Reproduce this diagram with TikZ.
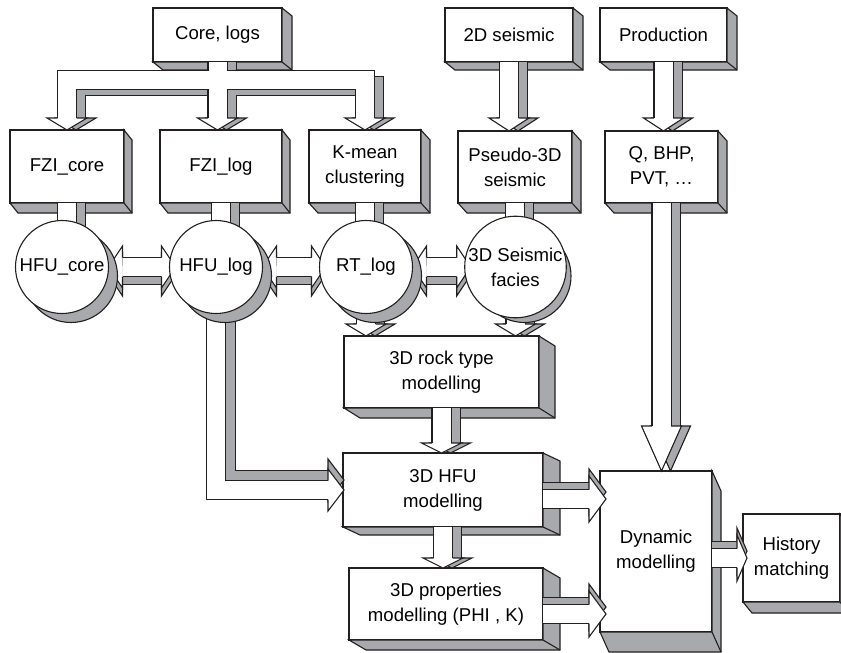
\documentclass[tikz,border=0pt]{standalone}
\usepackage{fontspec}
\setmainfont{Liberation Sans}
\usetikzlibrary{calc}

\definecolor{linecol}{RGB}{35,31,32}
\definecolor{sidegray}{RGB}{167,169,172}
\newcommand{\labelfont}{\fontsize{18.6}{25}\selectfont}

\pgfdeclarelayer{back}
\pgfdeclarelayer{front}
\pgfsetlayers{back,main,front}

% depth faces of a box
\newcommand{\extrude}[3]{%
  \filldraw[fill=sidegray,draw=linecol,line width=1.1pt,line join=miter]
    (#1.north east) -- ($(#1.north east)+(#2,#3)$) -- ($(#1.south east)+(#2,#3)$)
    -- ($(#1.south west)+(#2,#3)$) -- (#1.south west) -- (#1.south east) -- cycle;
  \draw[linecol,line width=1.1pt] (#1.south east) -- ($(#1.south east)+(#2,#3)$);}

% heads: tip, shift, fill, length, half width
\newcommand{\headdown}[5]{%
  \filldraw[arrowhead=#3] ($(#1)+(#2)+(-9.5,-#4)$) -- ($(#1)+(#2)+(-#5,-#4)$)
    -- ($(#1)+(#2)$) -- ($(#1)+(#2)+(#5,-#4)$) -- ($(#1)+(#2)+(9.5,-#4)$);}
\newcommand{\headright}[5]{%
  \filldraw[arrowhead=#3] ($(#1)+(#2)+({-1*(#4)},-9.5)$) -- ($(#1)+(#2)+({-1*(#4)},-#5)$)
    -- ($(#1)+(#2)$) -- ($(#1)+(#2)+({-1*(#4)},#5)$) -- ($(#1)+(#2)+({-1*(#4)},9.5)$);}

\newcommand{\downblock}[3]{%
  \draw[band=sidegray] ($(#1)+(9,0)$) -- ($(#2)+(9,-#3)$);
  \headdown{#2}{9,0}{sidegray}{#3}{20}
  \draw[band=white] (#1) -- ($(#2)+(0,-#3)$);
  \headdown{#2}{0,0}{white}{#3}{20}}
\newcommand{\stemblock}[2]{%
  \draw[band=sidegray] ($(#1)+(9,0)$) -- ($(#2)+(9,0)$);
  \draw[band=white] (#1) -- (#2);}
\newcommand{\rightblock}[3]{%
  \draw[band=sidegray] ($(#1)+(0,-7)$) -- ($(#2)+(-#3,-7)$);
  \headright{#2}{0,-7}{sidegray}{#3}{23}
  \draw[band=white] (#1) -- ($(#2)+(-#3,0)$);
  \headright{#2}{0,0}{white}{#3}{23}}
\newcommand{\bothblock}[2]{%
  \draw[band=sidegray] ($(#1)+(14,8)$) -- ($(#2)+(-8,8)$);
  \headright{#2}{6,8}{sidegray}{14}{21}
  \headright{#1}{0,8}{sidegray}{-14}{21}
  \draw[band=white] ($(#1)+(14,0)$) -- ($(#2)+(-8,0)$);
  \headright{#2}{6,0}{white}{14}{21}
  \headright{#1}{0,0}{white}{-14}{21}}

\newcommand{\hfucirc}[3]{%
  \filldraw[fill=sidegray,draw=linecol,line width=1.1pt] ($(#2)+(9,9)$) circle[radius=46.5];
  \node[hfucircle] (#1) at (#2) {#3};}

\begin{document}
\begin{tikzpicture}
[x=1pt,y=-1pt,
  blockbox/.style={draw=linecol,fill=white,line width=1.1pt,inner sep=0pt,
    outer sep=0pt,align=center,font=\labelfont},
  hfucircle/.style={circle,draw=linecol,fill=white,line width=1.1pt,
    minimum size=93pt,inner sep=0pt,outer sep=0pt,align=center,font=\labelfont},
  band/.style={draw=linecol,line width=1.1pt,double=#1,double distance=18pt,
    line join=miter},
  arrowhead/.style={fill=#1,draw=linecol,line width=1.1pt,line join=miter}]
\useasboundingbox (0,0) rectangle (841,653);

\begin{pgfonlayer}{back}
\node[blockbox,minimum width=129pt,minimum height=54pt] (corelogs) at (217.5,35) {Core, logs};
\node[blockbox,minimum width=128pt,minimum height=54pt] (seis2d) at (509,35) {2D seismic};
\node[blockbox,minimum width=127pt,minimum height=54pt] (production) at (663.5,35) {Production};
\node[blockbox,minimum width=114pt,minimum height=73pt] (fzicore) at (67,166.5) {FZI\_core};
\node[blockbox,minimum width=122pt,minimum height=73pt] (fzilog) at (221,166.5) {FZI\_log};
\node[blockbox,minimum width=112pt,minimum height=73pt] (kmean) at (365,166.5) {K-mean\\clustering};
\node[blockbox,minimum width=114pt,minimum height=72pt] (pseudo) at (515,167) {Pseudo-3D\\seismic};
\node[blockbox,minimum width=113pt,minimum height=72pt] (qbhp) at (661.5,167) {Q, BHP,\\PVT, …};
\node[blockbox,minimum width=195pt,minimum height=72pt] (rocktype) at (441.5,372) {3D rock type\\modelling};
\node[blockbox,minimum width=200pt,minimum height=74pt] (hfu3d) at (443,490) {3D HFU\\modelling};
\node[blockbox,minimum width=194pt,minimum height=72pt] (props) at (446,604) {3D properties\\modelling (PHI , K)};
\node[blockbox,minimum width=112pt,minimum height=161pt] (dynamic) at (656,551.5) {Dynamic\\modelling};
\node[blockbox,minimum width=97pt,minimum height=88pt] (history) at (791.5,558) {History\\matching};
\foreach \boxname/\dx/\dy in {corelogs/10/8, seis2d/10/8, production/10/8,
  fzicore/8/10, fzilog/8/10, kmean/9/10, pseudo/9/10, qbhp/9/10,
  rocktype/16/10, hfu3d/17/8, props/17/10, dynamic/9/20, history/9/11}
  {\extrude{\boxname}{\dx}{\dy}}
\end{pgfonlayer}

\begin{pgfonlayer}{front}
\hfucirc{hfucore}{62,267}{HFU\_core}
\hfucirc{hfulog}{216,267}{HFU\_log}
\hfucirc{rtlog}{366,267}{RT\_log}
\hfucirc{facies}{515.5,267}{3D Seismic\\facies}
\end{pgfonlayer}

\coordinate (split) at ($(corelogs.south)+(0,18)$);
\draw[band=sidegray] ($(corelogs.south)+(9,0)$) -- ($(corelogs.south |- fzilog.north)+(9,-12)$)
  ($(fzicore.north)+(9,-12)$) |- ($(split)+(9,6)$) -| ($(kmean.north)+(9,-12)$);
\foreach \tip in {fzicore.north, corelogs.south |- fzilog.north, kmean.north}
  {\headdown{\tip}{9,0}{sidegray}{12}{20}}
\draw[band=white] (corelogs.south) -- ($(corelogs.south |- fzilog.north)+(0,-12)$)
  ($(fzicore.north)+(0,-12)$) |- (split) -| ($(kmean.north)+(0,-12)$);
\foreach \tip in {fzicore.north, corelogs.south |- fzilog.north, kmean.north}
  {\headdown{\tip}{0,0}{white}{12}{20}}

\downblock{seis2d.south}{seis2d.south |- pseudo.north}{13}
\downblock{production.south}{production.south |- qbhp.north}{13}
\stemblock{fzicore.south}{fzicore.south |- hfucore.center}
\stemblock{fzilog.south}{fzilog.south |- hfulog.center}
\stemblock{kmean.south}{kmean.south |- rtlog.center}
\stemblock{pseudo.south}{pseudo.south |- facies.center}

\bothblock{hfucore.east}{hfulog.west}
\bothblock{hfulog.east}{rtlog.west}
\bothblock{rtlog.east}{facies.west}

\downblock{rtlog.center}{rtlog.center |- rocktype.north}{12}
\downblock{facies.center}{facies.center |- rocktype.north}{12}
\downblock{rocktype.south}{rocktype.south |- hfu3d.north}{10}
\downblock{hfu3d.south}{hfu3d.south |- props.north}{10}
\downblock{qbhp.south}{qbhp.south |- dynamic.north}{45}

\coordinate (hfuin) at ($(hfu3d.west)+(1,0)$);
\draw[band=sidegray] ($(hfulog.center)+(10,-10)$) |- ($(hfuin)+(-16,-10)$);
\headright{hfuin}{0,-10}{sidegray}{16}{21}
\draw[band=white] (hfulog.center) |- ($(hfuin)+(-16,0)$);
\headright{hfuin}{0,0}{white}{16}{21}

\coordinate (hfuout) at ($(hfu3d.east)+(0,9)$);
\coordinate (dynin) at ($(dynamic.west |- hfuout)+(6,0)$);
\rightblock{hfuout}{dynin}{17}
\coordinate (propsout) at ($(props.east)+(0,10)$);
\coordinate (dynin2) at ($(dynamic.west |- propsout)+(6,0)$);
\rightblock{propsout}{dynin2}{17}
\coordinate (dynout) at (dynamic.east |- history.west);
\coordinate (histin) at ($(history.west)+(4,0)$);
\rightblock{dynout}{histin}{10}
\end{tikzpicture}
\end{document}
